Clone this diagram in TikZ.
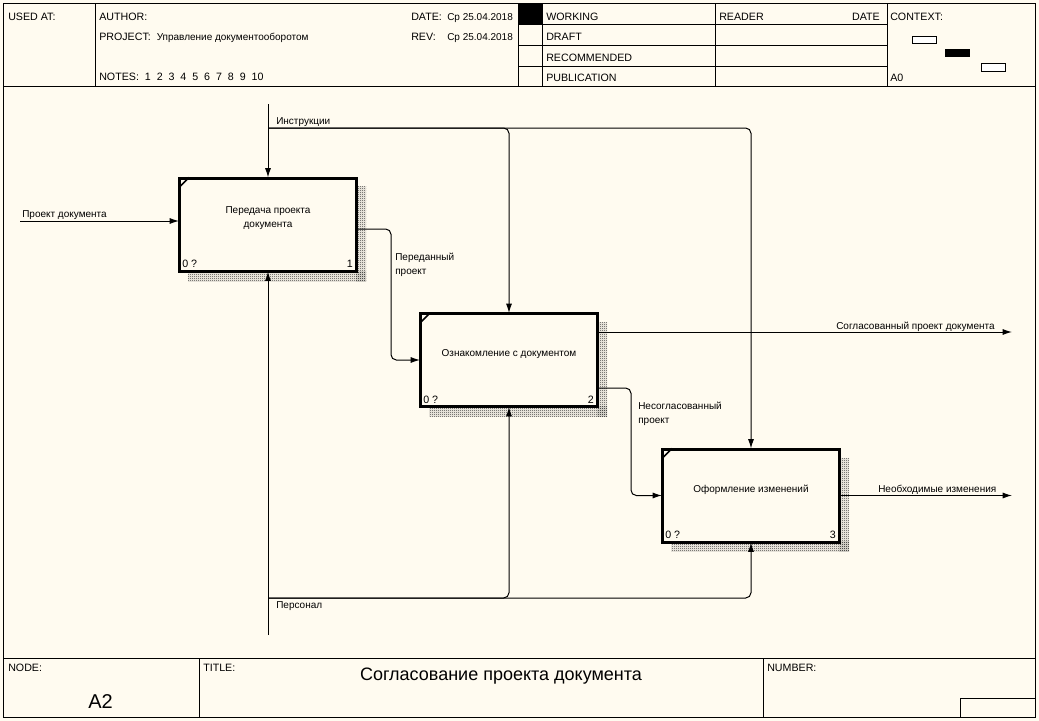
\documentclass[tikz,border=0pt]{standalone}
\usepackage{fontspec}
\setmainfont{Liberation Sans}
\usetikzlibrary{arrows.meta, calc, patterns}

\definecolor{paper}{RGB}{255,251,240}

\pgfdeclarepatternformonly{checker}{\pgfpointorigin}{\pgfpoint{1.5pt}{1.5pt}}{\pgfpoint{1.5pt}{1.5pt}}{
  \pgfpathrectangle{\pgfpointorigin}{\pgfpoint{0.75pt}{0.75pt}}
  \pgfpathrectangle{\pgfpoint{0.75pt}{0.75pt}}{\pgfpoint{0.75pt}{0.75pt}}
  \pgfusepath{fill}
}

\begin{document}
\begin{tikzpicture}[
  x=0.75pt, y=-0.75pt,
  frame/.style={draw=black, line width=0.75pt},
  hdr/.style={anchor=base west, inner sep=0, font=\fontsize{8}{9}\selectfont},
  func/.style={
    draw=black,
    line width=1.5pt,
    fill=paper,
    minimum width=132pt,
    minimum height=69pt,
    inner sep=0
  },
  functext/.style={align=center, inner sep=0, font=\fontsize{7.5}{10.5}\selectfont},
  tag/.style={inner sep=0, font=\fontsize{8}{9}\selectfont},
  lbl/.style={anchor=base west, inner sep=0, align=left, font=\fontsize{7.5}{10.5}\selectfont},
  arrow/.style={-{Latex[length=7pt,width=4.5pt]}, line width=0.75pt, rounded corners=4pt},
  shadow/.style={pattern=checker, pattern color=black!80}
]
  \fill[paper] (0,0) rectangle (1039,721);
  \useasboundingbox (0,0) rectangle (1039,721);

  % frame and header
  \draw[frame] (3,3) rectangle (1035,717);
  \draw[frame] (3,86) -- (1035,86);
  \draw[frame] (95,3) -- (95,86);
  \draw[frame] (518,3) -- (518,86);
  \draw[frame] (542,3) -- (542,86);
  \draw[frame] (715,3) -- (715,86);
  \draw[frame] (887,3) -- (887,86);
  \foreach \y in {24,45,66}
    \draw[frame] (518,\y) -- (887,\y);
  \fill[black] (518,3) rectangle (542,24);

  \node[hdr] (usedat) at (8,20) {USED AT:};
  \node[hdr] (author) at (99,20) {AUTHOR:};
  \node[hdr] (project) at (99,40) {PROJECT:\ \ \fontsize{7.5}{9}\selectfont Управление документооборотом};
  \node[hdr] (notes) at (99,80) {NOTES:\ \ 1\ \ 2\ \ 3\ \ 4\ \ 5\ \ 6\ \ 7\ \ 8\ \ 9\ \ 10};
  \node[hdr] (date) at (411,20) {DATE:};
  \node[hdr] (dateval) at (447,20) {\fontsize{7.5}{9}\selectfont Ср 25.04.2018};
  \node[hdr] (rev) at (411,40) {REV:};
  \node[hdr] (revval) at (447,40) {\fontsize{7.5}{9}\selectfont Ср 25.04.2018};
  \node[hdr] (working) at (546,20) {WORKING};
  \node[hdr] (draft) at (546,40) {DRAFT};
  \node[hdr] (recommended) at (546,61) {RECOMMENDED};
  \node[hdr] (publication) at (546,81) {PUBLICATION};
  \node[hdr] (reader) at (719,20) {READER};
  \node[hdr, anchor=base east] (readerdate) at (880,20) {DATE};
  \node[hdr] (context) at (890,20) {CONTEXT:};
  \node[hdr] (ctxnode) at (890,81) {A0};
  \draw[frame, fill=white] (912,36) rectangle (936,43);
  \fill[black] (945,49) rectangle (970,57);
  \draw[frame, fill=white] (981,63) rectangle (1005,71);

  % footer
  \draw[frame] (3,658) -- (1035,658);
  \draw[frame] (199,658) -- (199,717);
  \draw[frame] (763,658) -- (763,717);
  \draw[frame] (960,698) rectangle (1035,717);
  \node[hdr] (nodelbl) at (8,671) {NODE:};
  \node[hdr] (nodeval) at (88,708) {\fontsize{15}{17}\selectfont A2};
  \node[hdr] (titlelbl) at (203,671) {TITLE:};
  \node[inner sep=0, anchor=base, font=\fontsize{13.5}{16}\selectfont] (title) at (501,680) {Согласование проекта документа};
  \node[hdr] (numberlbl) at (767,671) {NUMBER:};

  % shadows
  \fill[shadow] (356,186) rectangle (366,281);
  \fill[shadow] (188,271) rectangle (366,281);
  \fill[shadow] (597,322) rectangle (607,416);
  \fill[shadow] (429,406) rectangle (607,416);
  \fill[shadow] (839,458) rectangle (849,551);
  \fill[shadow] (671,541) rectangle (849,551);

  % functions
  \node[func] (b1) at (268,224.5) {};
  \node[func] (b2) at (509,360) {};
  \node[func] (b3) at (751,495.5) {};

  % boundary points
  \coordinate (inp) at (20,221);
  \coordinate (ctrl) at (268,104);
  \coordinate (ctrlsplit) at (268,128);
  \coordinate (mech) at (268,635);
  \coordinate (mechsplit) at (268,598);
  \coordinate (out1) at (1012,332);
  \coordinate (out2) at (1012,495.5);

  \draw[arrow] (inp) -- (inp -| b1.west);
  \draw[arrow] (ctrl) -- (b1.north);
  \draw[arrow] (ctrlsplit) -| (b2.north);
  \draw[arrow] (ctrlsplit) -| (b3.north);
  \draw[arrow] (mech) -- (b1.south);
  \draw[arrow] (mechsplit) -| (b2.south);
  \draw[arrow] (mechsplit) -| (b3.south);
  \draw[arrow] ($(b1.east)+(0,4.5)$) -- ++(34,0) |- (b2.west);
  \draw[arrow] (out1 -| b2.east) -- (out1);
  \draw[arrow] ($(b2.east)+(0,28)$) -- ++(33,0) |- (b3.west);
  \draw[arrow] (b3.east) -- (out2);

  % boxes redrawn over the arrow ends
  \foreach \b in {b1,b2,b3}{
    \draw[line width=1.5pt] (\b.north west) rectangle (\b.south east);
    \draw[line width=1.2pt] ($(\b.north west)+(0,10)$) -- ($(\b.north west)+(10,0)$);
  }

  \node[functext] (t1) at ($(b1.center)+(0,-6)$) {Передача проекта\\документа};
  \node[functext] (t2) at ($(b2.center)+(0,-6)$) {Ознакомление с документом};
  \node[functext] (t3) at ($(b3.center)+(0,-6)$) {Оформление изменений};
  \foreach \b/\n in {b1/1,b2/2,b3/3}{
    \node[tag, anchor=base west] (\b cost) at ($(\b.south west)+(3,-4)$) {0 ?};
    \node[tag, anchor=base east] (\b num) at ($(\b.south east)+(-4,-4)$) {\n};
  }

  % arrow labels
  \node[lbl] (linp) at (22,217) {Проект документа};
  \node[lbl] (lctrl) at (276,124) {Инструкции};
  \node[lbl] (lmech) at (276,608) {Персонал};
  \node[lbl] (lpass) at (395,274) {Переданный\\проект};
  \node[lbl] (lout1) at (836,329) {Согласованный проект документа};
  \node[lbl] (lrej) at (638,423) {Несогласованный\\проект};
  \node[lbl] (lout2) at (878,492) {Необходимые изменения};
\end{tikzpicture}
\end{document}
